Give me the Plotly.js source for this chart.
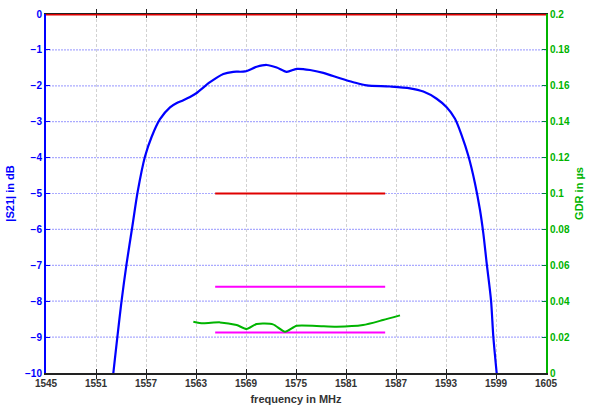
<!DOCTYPE html>
<html><head><meta charset="utf-8">
<script src="https://cdn.plot.ly/plotly-3.0.1.min.js"></script>
<style>body{margin:0;background:#fff}#c{width:599px;height:410px}</style>
</head><body><div id="c"></div>
<script>
// |S21| (dB) vs frequency (MHz)
const s21Freq = [1553.08,1554.08,1554.68,1555.36,1556.0,1556.88,1557.68,1558.68,1559.88,1560.7,1561.48,1562.28,1563.08,1564.68,1566.28,1567.48,1568.88,1570.28,1571.48,1572.68,1573.88,1575.08,1576.68,1578.28,1580.28,1581.88,1583.48,1586.28,1588.68,1590.28,1591.88,1593.08,1594.08,1594.88,1595.68,1596.48,1597.08,1597.48,1597.88,1598.4,1598.68,1599.08];
const s21dB   = [-10.0,-7.97,-6.94,-5.92,-4.95,-3.97,-3.42,-2.93,-2.60,-2.48,-2.40,-2.31,-2.20,-1.90,-1.67,-1.61,-1.60,-1.47,-1.42,-1.49,-1.61,-1.53,-1.56,-1.64,-1.79,-1.90,-1.99,-2.02,-2.07,-2.16,-2.36,-2.60,-2.92,-3.38,-3.95,-4.72,-5.46,-6.11,-6.94,-7.97,-8.99,-10.0];
// group delay ripple (µs)
const gdrFreq = [1562.68,1563.84,1565.88,1567.88,1569.08,1570.28,1572.24,1573.68,1575.08,1577.48,1579.88,1583.04,1585.44,1587.48];
const gdrUs   = [0.0286,0.0277,0.0282,0.0267,0.0245,0.0273,0.0271,0.0230,0.0263,0.0262,0.0258,0.0267,0.0295,0.0321];
// limit lines
const refLineX = [1545, 1605];
const refLineDb = [0, 0];
const limitX = [1565.3, 1585.7];
const redLimitDb = [-5, -5];
const magUpperDb = [-7.6, -7.6];
const magLowerDb = [-8.87, -8.87];
const xTicks = [1545,1551,1557,1563,1569,1575,1581,1587,1593,1599,1605];
const yTicks = [-10,-9,-8,-7,-6,-5,-4,-3,-2,-1,0];

const F = 'Liberation Sans, Arial, sans-serif';
const traces = [
  {x: s21Freq, y: s21dB, mode:'lines', line:{color:'#0000ff', width:2.2, shape:'spline', smoothing:0.8}, xaxis:'x', yaxis:'y'},
  {x: limitX, y: redLimitDb, mode:'lines', line:{color:'#e00000', width:2}, xaxis:'x', yaxis:'y'},
  {x: limitX, y: magUpperDb, mode:'lines', line:{color:'#ff00ff', width:2}, xaxis:'x', yaxis:'y'},
  {x: limitX, y: magLowerDb, mode:'lines', line:{color:'#ff00ff', width:2}, xaxis:'x', yaxis:'y'},
  {x: gdrFreq, y: gdrUs, mode:'lines', line:{color:'#00b400', width:2, shape:'spline', smoothing:0.6}, xaxis:'x', yaxis:'y2'},
  {x: refLineX, y: refLineDb, mode:'lines', line:{color:'#e00000', width:3}, xaxis:'x', yaxis:'y', cliponaxis:false}
];
const gridShapes = yTicks.slice(1, -1).map(v => ({type:'line', xref:'paper', yref:'y', x0:0, x1:1, y0:v, y1:v,
  layer:'below', line:{color:'#aaaaff', width:1.2, dash:'2px,1px'}}));
const layout = {
  width:599, height:410, showlegend:false,
  paper_bgcolor:'#fff', plot_bgcolor:'#fff',
  margin:{l:46, r:53, t:14, b:37},
  shapes: gridShapes,
  xaxis:{range:[1545,1605], tickvals:xTicks, ticktext:xTicks.map(String), layer:'below traces',
    showgrid:true, gridcolor:'#d2d2d2', griddash:'3px,2px', gridwidth:1,
    showline:true, mirror:'allticks', linecolor:'#222', linewidth:1.5, ticks:'inside', ticklen:4, tickcolor:'#222',
    tickfont:{family:F, size:10, color:'#333', weight:'bold'}, zeroline:false,
    title:{text:'<b>frequency in MHz</b>', font:{family:F, size:11, color:'#333'}, standoff:8}},
  yaxis:{range:[-10,0], tickvals:yTicks, showgrid:false,
    showline:true, linecolor:'#0000ff', linewidth:2, ticks:'inside', ticklen:4, tickcolor:'#0000ff',
    tickfont:{family:F, size:10, color:'#0000ff', weight:'bold'}, zeroline:false,
    title:{text:'<b>|S21| in dB</b>', font:{family:F, size:11, color:'#0000ff'}, standoff:8}},
  yaxis2:{range:[0,0.2], dtick:0.02, overlaying:'y', side:'right', showgrid:false,
    showline:true, linecolor:'#00b400', linewidth:2, ticks:'inside', ticklen:4, tickcolor:'#008040',
    tickfont:{family:F, size:10, color:'#00b400', weight:'bold'}, zeroline:false,
    title:{text:'<b>GDR in µs</b>', font:{family:F, size:11, color:'#00b400'}, standoff:6}}
};
Plotly.newPlot('c', traces, layout, {staticPlot:true, displayModeBar:false});
</script></body></html>
